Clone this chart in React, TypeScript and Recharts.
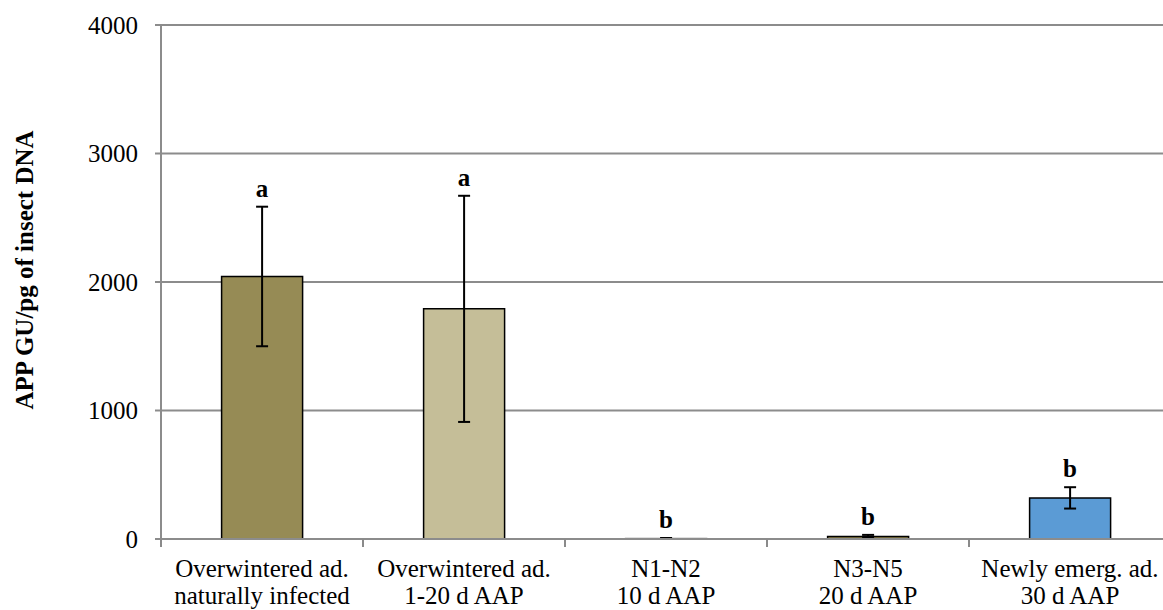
import { Bar, CartesianGrid, Cell, ComposedChart, ErrorBar, Scatter, XAxis, YAxis } from "recharts";

const FONT = "'Liberation Serif', 'Times New Roman', serif";

// one entry per group
const labelTop = ["Overwintered ad.", "Overwintered ad.", "N1-N2", "N3-N5", "Newly emerg. ad."];
const labelBottom = ["naturally infected", "1-20 d AAP", "10 d AAP", "20 d AAP", "30 d AAP"];
const means = [2043, 1791, 5, 20, 320];
const errors = [543, 880, 3, 12, 83];
const letters = ["a", "a", "b", "b", "b"];
const fills = ["#968B55", "#C5BE98", "#D4D4D4", "#8C7F45", "#5B9BD5"];
const strokes = ["#000000", "#000000", "#BFBFBF", "#000000", "#000000"];
const yTicks = [0, 1000, 2000, 3000, 4000];

const WIDTH = 1180;
const HEIGHT = 610;
const LEFT = 161;
const TOP = 25;
const BOTTOM = 539;
const BAND = (WIDTH - LEFT - 9) / labelTop.length;

const data = labelTop.map((name, i) => ({
  name,
  idx: i,
  value: means[i],
  err: errors[i],
  top: means[i] + errors[i],
  letter: letters[i],
}));

function CategoryTick(props: any) {
  const { x, payload } = props;
  const i = payload.index;
  return (
    <g>
      <line x1={x - BAND / 2} y1={BOTTOM} x2={x - BAND / 2} y2={BOTTOM + 8} stroke="#8a8a8a" strokeWidth={2} />
      <text textAnchor="middle" fontFamily={FONT} fontSize={25} fill="#000">
        <tspan x={x} y={BOTTOM + 38}>{labelTop[i]}</tspan>
        <tspan x={x} y={BOTTOM + 65}>{labelBottom[i]}</tspan>
      </text>
    </g>
  );
}

function LetterMark(props: any) {
  const { cx, cy, payload } = props;
  return (
    <text x={cx} y={cy - 10} textAnchor="middle" fontFamily={FONT} fontSize={25} fontWeight="bold" fill="#000">
      {payload.letter}
    </text>
  );
}

export default function App() {
  return (
    <div style={{ position: "absolute", left: 0, top: 0, width: 1163, height: 610, overflow: "hidden", background: "#fff" }}>
      <ComposedChart width={WIDTH} height={HEIGHT} data={data} margin={{ top: TOP, right: 9, left: 0, bottom: 0 }} barCategoryGap="30%">
        <CartesianGrid vertical={false} stroke="#8c8c8c" strokeWidth={2} />
        <XAxis
          dataKey="idx"
          height={HEIGHT - BOTTOM}
          axisLine={{ stroke: "#8c8c8c", strokeWidth: 2 }}
          tickLine={false}
          interval={0}
          tick={<CategoryTick />}
        />
        <YAxis
          width={LEFT}
          domain={[0, 4000]}
          ticks={yTicks}
          axisLine={{ stroke: "#8c8c8c", strokeWidth: 2 }}
          tickLine={{ stroke: "#8c8c8c", strokeWidth: 2 }}
          tickSize={6}
          tickMargin={17}
          tick={{ fontFamily: FONT, fontSize: 25, fill: "#000" }}
          label={{
            content: () => (
              <text
                x={33}
                y={270}
                transform="rotate(-90 33 270)"
                textAnchor="middle"
                fontFamily={FONT}
                fontSize={25}
                fontWeight="bold"
                fill="#000"
              >
                APP GU/pg of insect DNA
              </text>
            ),
          }}
        />
        <Bar dataKey="value" isAnimationActive={false} strokeWidth={1.5}>
          {data.map((d, i) => (
            <Cell key={d.name + i} fill={fills[i]} stroke={strokes[i]} />
          ))}
          <ErrorBar dataKey="err" width={6} stroke="#000" strokeWidth={2} />
        </Bar>
        <Scatter dataKey="top" isAnimationActive={false} shape={<LetterMark />} />
      </ComposedChart>
    </div>
  );
}
